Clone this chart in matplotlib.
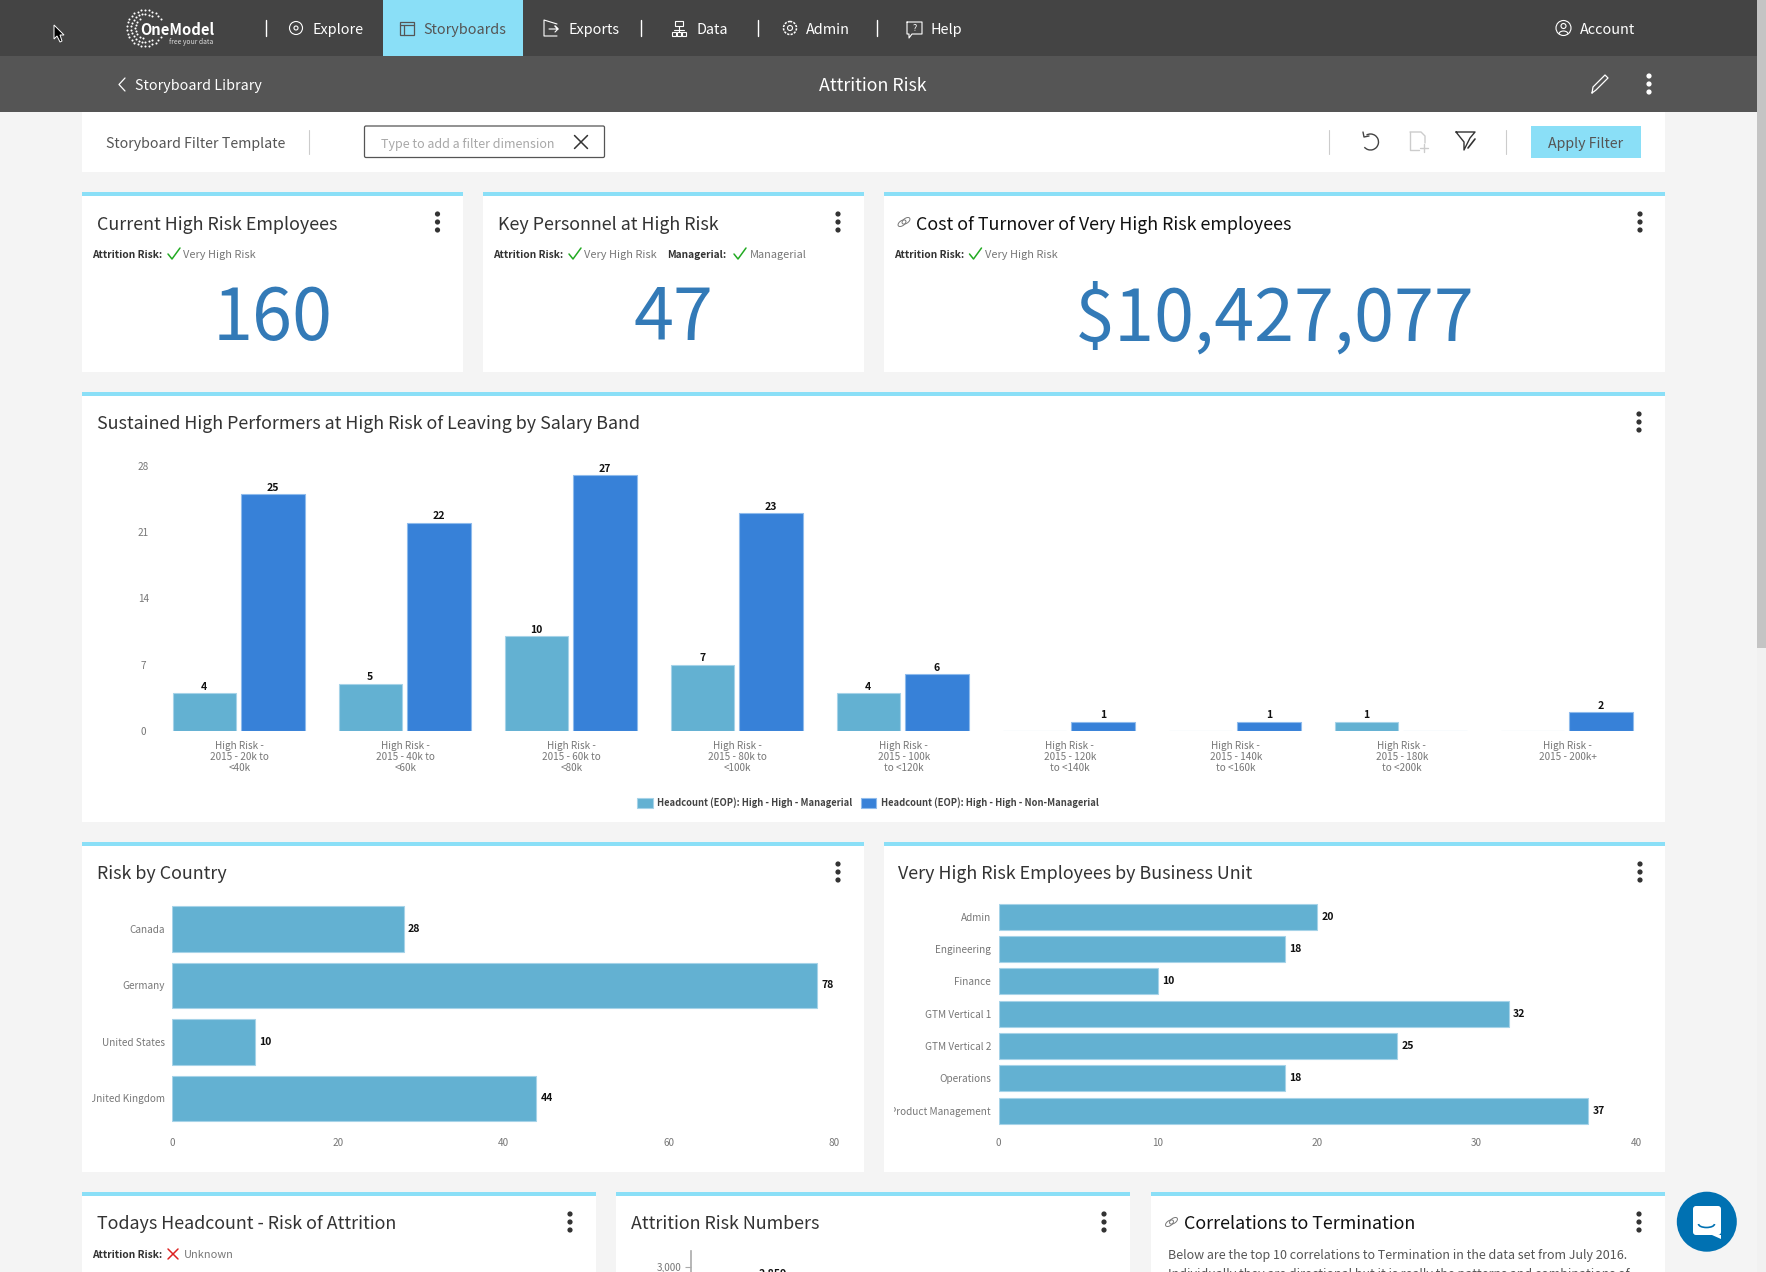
import numpy as np
import matplotlib
matplotlib.use('Agg')
import matplotlib.pyplot as plt
from matplotlib.patches import Rectangle, Circle, Polygon, FancyBboxPatch, Arc
from matplotlib.transforms import Bbox

W, H = 1766, 1272
plt.rcParams['font.family'] = ['Noto Sans CJK SC', 'DejaVu Sans']

# salary band chart
band_labels = ['High Risk -\n2015 - 20k to\n<40k', 'High Risk -\n2015 - 40k to\n<60k',
               'High Risk -\n2015 - 60k to\n<80k', 'High Risk -\n2015 - 80k to\n<100k',
               'High Risk -\n2015 - 100k\nto <120k', 'High Risk -\n2015 - 120k\nto <140k',
               'High Risk -\n2015 - 140k\nto <160k', 'High Risk -\n2015 - 180k\nto <200k',
               'High Risk -\n2015 - 200k+']
managerial = [4, 5, 10, 7, 4, 0, 0, 1, 0]
non_managerial = [25, 22, 27, 23, 6, 1, 1, 0, 2]
band_ticks = [0, 7, 14, 21, 28]
legend_names = ['Headcount (EOP): High - High - Managerial',
                'Headcount (EOP): High - High - Non-Managerial']

countries = ['Canada', 'Germany', 'United States', 'United Kingdom']
country_values = [28, 78, 10, 44]
country_ticks = [0, 20, 40, 60, 80]

units = ['Admin', 'Engineering', 'Finance', 'GTM Vertical 1', 'GTM Vertical 2',
         'Operations', 'Product Management']
unit_values = [20, 18, 10, 32, 25, 18, 37]
unit_ticks = [0, 10, 20, 30, 40]

risk_numbers = [2859]
risk_ticks = [3000]

# KPI tiles
kpi_high_risk = '160'
kpi_key_personnel = '47'
kpi_cost = '$10,427,077'

LIGHT = '#63B1D2'
DARK = '#3781D8'
STRIPE = '#8ADFF7'
TITLE = '#333333'
GREY = '#777777'

fig = plt.figure(figsize=(W / 100, H / 100), dpi=100, facecolor='#F4F4F4')
bg = fig.add_axes([0, 0, 1, 1])
bg.set_xlim(0, W)
bg.set_ylim(H, 0)
bg.axis('off')


def rect(x0, y0, x1, y1, color, **kw):
    bg.add_patch(Rectangle((x0, y0), x1 - x0, y1 - y0, facecolor=color, edgecolor='none', **kw))


def txt(x, y, s, px, color=TITLE, ha='left', va='center', **kw):
    # the CJK font sits high in its box, push it down a bit
    if va == 'center':
        y = y + 0.12 * px
    return bg.text(x, y, s, fontsize=px * 0.72, color=color, ha=ha, va=va, **kw)


def title(x, y, s, color=TITLE):
    txt(x, y, s, 17.9, color=color, fontweight='medium')


def line(xs, ys, color='#FFFFFF', lw=1.0, **kw):
    bg.plot(xs, ys, color=color, lw=lw, solid_capstyle='round', **kw)


def kebab(x, y, color='#333333'):
    for d in (-8, 0, 8):
        bg.add_patch(Circle((x, y + d), 2.6, facecolor=color, edgecolor='none'))


def check(x, y):
    line([x - 6, x - 2, x + 6], [y, y + 5, y - 6], color='#22AA22', lw=1.1)


def cross(x, y, r, color, lw=1.2):
    line([x - r, x + r], [y - r, y + r], color=color, lw=lw)
    line([x - r, x + r], [y + r, y - r], color=color, lw=lw)


def link(x, y):
    for d in (-2, 2):
        bg.add_patch(Arc((x + d, y - d * 0.6), 9, 5, angle=-35, edgecolor='#777777', lw=0.7))


def card(x0, y0, x1, y1):
    rect(x0, y0, x1, y1, '#FFFFFF')
    rect(x0, y0, x1, y0 + 4, STRIPE)


def filt(x, y, label, gap_check, value, gap_val):
    txt(x, y, label, 10.2, color='#333333', fontweight='bold')
    check(x + gap_check, y)
    txt(x + gap_val, y, value, 11, color='#777777')


# chrome
rect(0, 0, W, 56, '#444444')
rect(0, 56, W, 112, '#555555')
rect(383, 0, 523, 56, STRIPE)
rect(82, 112, 1665, 172, '#FFFFFF')
rect(1757, 0, W, H, '#F1F1F1')
rect(1757, 0, W, 648, '#C4C4C4')

# cursor
bg.add_patch(Polygon([(54, 25), (54, 39), (57, 36), (60, 42), (62, 41), (60, 35), (64, 35)],
                     closed=True, facecolor='black', edgecolor='white', lw=0.7))

# logo
for rad, a0, a1, n in [(18, 30, 330, 26), (14, 60, 300, 18), (10, 120, 260, 8)]:
    ang = np.radians(np.linspace(a0, a1, n))
    bg.scatter(145 + rad * np.cos(ang), 28 - rad * np.sin(ang), s=2.2, color='white', lw=0)
txt(140, 28, 'OneModel', 14.8, color='white', fontweight='bold', zorder=5)
txt(169, 41, 'free your data', 6.8, color='#DDDDDD')

# nav
for x in (265.5, 640.5, 758, 876.5):
    line([x, x], [20, 36], lw=1.0)
nav = [(312, 'Explore', 'white'), (423.5, 'Storyboards', '#555555'), (568, 'Exports', 'white'),
       (696, 'Data', 'white'), (806, 'Admin', 'white'), (931, 'Help', 'white'), (1579.5, 'Account', 'white')]
for x, s, c in nav:
    txt(x, 28.5, s, 14.4, color=c)

# nav icons
bg.add_patch(Circle((296, 28), 6.5, fill=False, edgecolor='white', lw=0.8))
bg.add_patch(Circle((296, 28), 2, fill=False, edgecolor='white', lw=0.8))
bg.add_patch(Rectangle((399.5, 22), 14, 13, fill=False, edgecolor='#555555', lw=0.9))
line([399.5, 413.5], [25, 25], color='#555555', lw=0.9)
line([404, 404], [25, 35], color='#555555', lw=0.9)
line([557, 544, 544, 557], [24, 20, 36, 36], lw=0.8)
line([549, 558, 555, 558, 555], [29, 29, 26, 29, 32], lw=0.8)
bg.add_patch(Rectangle((675, 21), 8, 5, fill=False, edgecolor='white', lw=0.8))
for x in (672, 677, 682):
    bg.add_patch(Rectangle((x, 32), 4, 4, fill=False, edgecolor='white', lw=0.8))
line([679, 679], [26, 32], lw=0.8)
line([674, 684], [30, 30], lw=0.8)
bg.add_patch(Circle((790, 28), 6.5, fill=False, edgecolor='white', lw=1.1, ls=(0, (1.5, 0.8))))
bg.add_patch(Circle((790, 28), 2.5, fill=False, edgecolor='white', lw=0.8))
line([907, 922, 922, 912, 909, 909, 907, 907], [22, 22, 34, 34, 38, 34, 34, 22], lw=0.8)
txt(914.5, 27, '?', 9, color='white', ha='center')
bg.add_patch(Circle((1563.5, 28), 7.5, fill=False, edgecolor='white', lw=0.8))
bg.add_patch(Circle((1563.5, 26), 2.5, fill=False, edgecolor='white', lw=0.8))
bg.add_patch(Arc((1563.5, 34), 9, 6, theta1=180, theta2=360, edgecolor='white', lw=0.8))

# second bar
line([125, 119, 125], [78, 84.5, 91], lw=0.9)
txt(135, 84.5, 'Storyboard Library', 14.3, color='white')
txt(873, 84, 'Attrition Risk', 17.8, color='white', ha='center')
line([1592, 1593, 1605, 1608, 1596, 1592], [93, 87, 75, 78, 90, 93], lw=0.9)
kebab(1649, 84, color='white')

# filter row
txt(106, 142.5, 'Storyboard Filter Template', 14.25, color='#555555')
line([309, 309], [130, 154], color='#CCCCCC', lw=0.8)
bg.add_patch(FancyBboxPatch((364.5, 126), 240, 31.5, boxstyle='round,pad=0,rounding_size=1.5',
                            facecolor='white', edgecolor='#555555', lw=0.9))
txt(381, 143, 'Type to add a filter dimension', 12.5, color='#A8A8A8')
cross(581, 142, 6.5, '#333333', lw=1.1)
line([1329, 1329], [130, 154], color='#CCCCCC', lw=0.8)
line([1506, 1506], [130, 154], color='#CCCCCC', lw=0.8)
bg.add_patch(Arc((1370.5, 142), 16, 16, theta1=-120, theta2=140, edgecolor='#444444', lw=1.0))
line([1363, 1364, 1369], [132, 137, 136], color='#444444', lw=1.0)
line([1410, 1421, 1425, 1425], [132, 132, 136, 143], color='#CCCCCC', lw=1.0)
line([1410, 1410, 1419], [132, 150, 150], color='#CCCCCC', lw=1.0)
line([1420, 1428], [148, 148], color='#CCCCCC', lw=1.0)
line([1424, 1424], [144, 152], color='#CCCCCC', lw=1.0)
line([1456, 1475, 1470, 1464, 1464, 1456], [132, 132, 138, 150, 142, 132], color='#333333', lw=1.0)
line([1468, 1475], [148, 139], color='#333333', lw=1.2)
rect(1531, 126, 1641, 158, STRIPE)
txt(1586, 142.5, 'Apply Filter', 14.25, color='#555555', ha='center')

# cards
card(82, 192, 463, 372)
card(483, 192, 864, 372)
card(884, 192, 1665, 372)
card(82, 392, 1665, 822)
card(82, 842, 864, 1172)
card(884, 842, 1665, 1172)
card(82, 1192, 596, H + 5)
card(616, 1192, 1130, H + 5)
card(1151, 1192, 1665, H + 5)

title(97, 222.5, 'Current High Risk Employees')
title(498, 222.5, 'Key Personnel at High Risk')
link(904, 222)
title(916, 222.5, 'Cost of Turnover of Very High Risk employees', color='#111111')
title(97, 422, 'Sustained High Performers at High Risk of Leaving by Salary Band')
title(97, 872, 'Risk by Country')
title(898.5, 872, 'Very High Risk Employees by Business Unit')
title(97, 1222, 'Todays Headcount - Risk of Attrition')
title(631, 1222, 'Attrition Risk Numbers')
link(1171.5, 1222)
title(1183.5, 1222, 'Correlations to Termination', color='#111111')

for x, y in [(437.5, 222), (838, 222), (1640, 222), (1639, 422), (838, 872), (1640, 872),
             (570, 1222), (1104, 1222), (1639, 1222)]:
    kebab(x, y)

filt(92, 254, 'Attrition Risk:', 82, 'Very High Risk', 91)
filt(493, 254, 'Attrition Risk:', 82, 'Very High Risk', 91)
filt(667.5, 254, 'Managerial:', 72.5, 'Managerial', 82.5)
filt(894, 254, 'Attrition Risk:', 81.5, 'Very High Risk', 91)
txt(92, 1254, 'Attrition Risk:', 10.2, color='#333333', fontweight='bold')
cross(173, 1254, 5, '#DD2222', lw=1.1)
txt(184, 1254, 'Unknown', 11, color='#777777')

for x, s in [(272.5, kpi_high_risk), (673.5, kpi_key_personnel), (1275, kpi_cost)]:
    txt(x, 340, s, 72, color='#337AB7', ha='center', va='baseline')

txt(1168.5, 1254.5, 'Below are the top 10 correlations to Termination in the data set from July 2016.', 12.5, color='#555555')
txt(1168.5, 1273, 'Individually they are directional but it is really the patterns and combinations of', 12.5, color='#555555')

# chat bubble
bg.add_patch(Circle((1706.8, 1221.7), 30, facecolor='#0071B2', edgecolor='none', zorder=4))
bg.add_patch(FancyBboxPatch((1693, 1206), 28, 29, boxstyle='round,pad=0,rounding_size=3',
                            facecolor='white', edgecolor='none', zorder=5))
bg.add_patch(Polygon([(1712, 1235), (1721, 1235), (1721, 1239)], facecolor='white', edgecolor='none', zorder=5))
bg.add_patch(Arc((1706.5, 1224), 16, 7, theta1=0, theta2=180, edgecolor='#0071B2', lw=1.2, zorder=6))


def chart_ax(x0, y0, x1, y1):
    ax = fig.add_axes([x0 / W, 1 - y1 / H, (x1 - x0) / W, (y1 - y0) / H])
    ax.patch.set_alpha(0)
    for s in ax.spines.values():
        s.set_visible(False)
    ax.tick_params(length=0, labelsize=10 * 0.72, labelcolor=GREY)
    return ax


# salary band bars
ax = chart_ax(156, 466, 1650, 731)
x = np.arange(len(band_labels))
b1 = ax.bar(x - 0.21, managerial, 0.38, color=LIGHT, edgecolor='#A6D3E8', lw=0.8, label=legend_names[0])
b2 = ax.bar(x + 0.205, non_managerial, 0.385, color=DARK, edgecolor='#8FBBEC', lw=0.8, label=legend_names[1])
for bars, vals in ((b1, managerial), (b2, non_managerial)):
    ax.bar_label(bars, labels=[str(v) if v else '' for v in vals], padding=1,
                 fontsize=10.5 * 0.72, fontweight='bold', color='#111111')
ax.set_xlim(-0.5, len(band_labels) - 0.5)
ax.set_ylim(0, 28)
ax.set_yticks(band_ticks)
ax.tick_params(axis='y', pad=9)
for l in ax.get_yticklabels():
    l.set_ha('center')
ax.set_xticks(x + 0.005, band_labels, linespacing=1.12)
ax.tick_params(axis='x', pad=7)
leg = fig.legend(handles=[b1, b2], loc='center', bbox_to_anchor=(868 / W, 1 - 803 / H), ncols=2, frameon=False,
                 fontsize=9.4 * 0.72, handlelength=1.6, handleheight=1.3, handletextpad=0.5, columnspacing=0.9)
for t in leg.get_texts():
    t.set_color('#444444')
    t.set_fontweight('bold')


def hbar_chart(box, cats, vals, ticks, clip_x):
    ax = chart_ax(*box)
    y = np.arange(len(cats))
    bars = ax.barh(y, vals, 0.8, color=LIGHT, edgecolor='#A6D3E8', lw=0.8)
    ax.bar_label(bars, padding=3, fontsize=10.5 * 0.72, fontweight='bold', color='#111111')
    ax.set_ylim(len(cats) - 0.5, -0.5)
    ax.set_xlim(ticks[0], ticks[-1])
    ax.set_yticks(y, cats)
    ax.set_xticks(ticks)
    ax.tick_params(axis='y', pad=5.5)
    ax.tick_params(axis='x', pad=8.2)
    # long names get cut off at the card padding, like in the app
    clip = Bbox([[clip_x, 0], [W, H]])
    for l in ax.get_yticklabels():
        l.set_clip_box(clip)
        l.set_clip_on(True)
    return ax


hbar_chart((172.3, 900.7, 834, 1126.7), countries, country_values, country_ticks, 92)
hbar_chart((998.6, 900.5, 1636, 1126.8), units, unit_values, unit_ticks, 893.5)

# risk numbers, only the top of the chart fits on the screen
ax = chart_ax(691, 1251, 1100, 1567)
ax.set_ylim(0, 3157)
ax.set_xlim(-0.5, 4.5)
rb = ax.bar([0.5], risk_numbers, 0.8, color=LIGHT)
ax.bar_label(rb, labels=[f'{v:,}' for v in risk_numbers], padding=1, fontsize=10.5 * 0.72,
             fontweight='bold', color='#111111')
ax.spines['left'].set_visible(True)
ax.spines['left'].set_color('#AAAAAA')
ax.spines['left'].set_linewidth(1.2)
ax.set_yticks(risk_ticks, [f'{v:,}' for v in risk_ticks])
ax.set_xticks([])
ax.tick_params(axis='y', length=4.5, width=0.8, color='#AAAAAA', pad=2)

fig.savefig('out.png', dpi=100, facecolor=fig.get_facecolor())
